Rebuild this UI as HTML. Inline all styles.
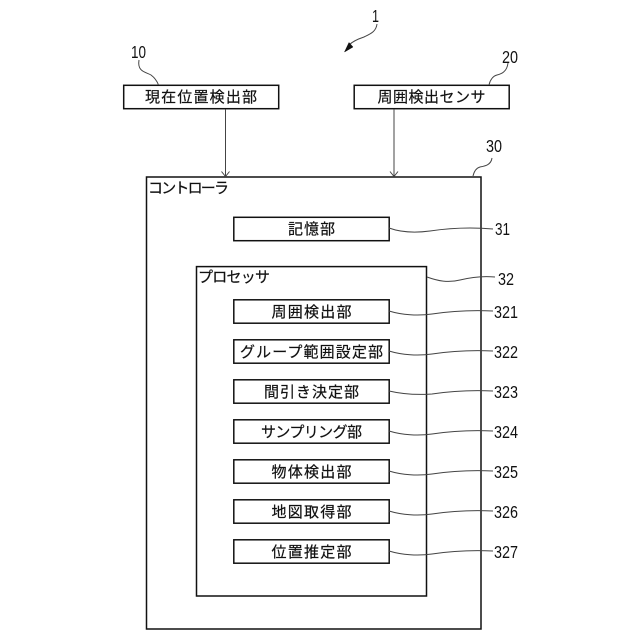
<!DOCTYPE html>
<html lang="ja"><head><meta charset="utf-8"><style>
html,body{margin:0;padding:0;background:#fff}
svg{display:block}
.j{font-family:"Liberation Sans","Noto Sans CJK JP",sans-serif;font-size:15px;fill:#111;stroke:#111;stroke-width:.2;text-anchor:middle}
.l{font-family:"Liberation Sans","Noto Sans CJK JP",sans-serif;font-size:15px;fill:#111;stroke:#111;stroke-width:.2}
.n{font-family:"Liberation Sans",sans-serif;font-size:17.5px;fill:#111}
.b{fill:none;stroke:#111;stroke-width:1.5}
.c{fill:none;stroke:#444;stroke-width:1}
</style></head><body>
<svg width="640" height="640" viewBox="0 0 640 640" xmlns="http://www.w3.org/2000/svg">
<rect class="b" x="123.7" y="85.3" width="155" height="23.4"/>
<rect class="b" x="354.2" y="85.3" width="155" height="23.4"/>
<rect class="b" x="146.5" y="177" width="334.5" height="452"/>
<rect class="b" x="233.8" y="217.3" width="155.4" height="23.4"/>
<rect class="b" x="196.5" y="266.6" width="230" height="329.4"/>
<rect class="b" x="233.8" y="299.8" width="155.4" height="23.4"/>
<rect class="b" x="233.8" y="339.8" width="155.4" height="23.4"/>
<rect class="b" x="233.8" y="379.8" width="155.4" height="23.4"/>
<rect class="b" x="233.8" y="419.8" width="155.4" height="23.4"/>
<rect class="b" x="233.8" y="459.8" width="155.4" height="23.4"/>
<rect class="b" x="233.8" y="499.8" width="155.4" height="23.4"/>
<rect class="b" x="233.8" y="539.8" width="155.4" height="23.4"/>

<path class="c" d="M225.5 109V176M221.5 171.5L225.5 176.5L229.5 171.5"/>
<path class="c" d="M394 109V176M390 171.5L394 176.5L398 171.5"/>

<path class="c" d="M139 60C137 72 146 72 151 75C155 78 157 81 158.5 85"/>
<path class="c" d="M508 63C507 72 501 74 497 75C493 76 490 80 489 85"/>
<path class="c" d="M492 158C491 165 485 166 480 167C476 168 474 172 473 176"/>
<path class="c" d="M377 24C376 32 370 34 364 37C358 39 353 41 349 45"/>
<path d="M344.5 52L349 42.5L353 47Z" fill="#111" stroke="#111" stroke-width=".5"/>

<path class="c" d="M389 228C400 232 415 233 430 231C450 228 470 227 493 229"/>
<path class="c" d="M427 277C438 281 448 283 460 280C472 277 485 276 495 277"/>
<path class="c" d="M389 311C402 315 418 316 432 314C452 311 472 310 493 311"/>
<path class="c" d="M389 351C402 355 418 356 432 354C452 351 472 350 493 351"/>
<path class="c" d="M389 391C402 394 418 395 432 394C452 391 472 390 493 391"/>
<path class="c" d="M389 431C402 435 418 436 432 434C452 431 472 430 493 431"/>
<path class="c" d="M389 471C402 475 418 476 432 474C452 471 472 470 493 471"/>
<path class="c" d="M389 511C402 515 418 516 432 514C452 511 472 510 493 511"/>
<path class="c" d="M389 551C402 555 418 556 432 554C452 551 472 550 493 551"/>

<text class="j" x="201" y="102" textLength="112" lengthAdjust="spacing">現在位置検出部</text>
<text class="j" x="431.5" y="102" textLength="108" lengthAdjust="spacing">周囲検出センサ</text>
<text class="l" x="148" y="193" textLength="81" lengthAdjust="spacing">コントローラ</text>
<text class="j" x="311.5" y="234" textLength="47" lengthAdjust="spacing">記憶部</text>
<text class="l" x="198" y="282" textLength="72" lengthAdjust="spacing">プロセッサ</text>
<text class="j" x="311.5" y="317" textLength="80" lengthAdjust="spacing">周囲検出部</text>
<text class="j" x="311.5" y="357" textLength="143" lengthAdjust="spacing">グループ範囲設定部</text>
<text class="j" x="311.5" y="397" textLength="95" lengthAdjust="spacing">間引き決定部</text>
<text class="j" x="311.5" y="437" textLength="101" lengthAdjust="spacing">サンプリング部</text>
<text class="j" x="311.5" y="477" textLength="80" lengthAdjust="spacing">物体検出部</text>
<text class="j" x="311.5" y="517" textLength="80" lengthAdjust="spacing">地図取得部</text>
<text class="j" x="311.5" y="557" textLength="80" lengthAdjust="spacing">位置推定部</text>

<text class="n" x="372" y="22" textLength="7" lengthAdjust="spacingAndGlyphs">1</text>
<text class="n" x="131" y="58" textLength="15" lengthAdjust="spacingAndGlyphs">10</text>
<text class="n" x="502" y="63" textLength="16" lengthAdjust="spacingAndGlyphs">20</text>
<text class="n" x="486" y="152" textLength="16" lengthAdjust="spacingAndGlyphs">30</text>
<text class="n" x="495" y="235" textLength="15" lengthAdjust="spacingAndGlyphs">31</text>
<text class="n" x="498" y="285" textLength="16" lengthAdjust="spacingAndGlyphs">32</text>
<text class="n" x="494" y="318" textLength="24" lengthAdjust="spacingAndGlyphs">321</text>
<text class="n" x="494" y="358" textLength="24" lengthAdjust="spacingAndGlyphs">322</text>
<text class="n" x="494" y="398" textLength="24" lengthAdjust="spacingAndGlyphs">323</text>
<text class="n" x="494" y="438" textLength="24" lengthAdjust="spacingAndGlyphs">324</text>
<text class="n" x="494" y="478" textLength="24" lengthAdjust="spacingAndGlyphs">325</text>
<text class="n" x="494" y="518" textLength="24" lengthAdjust="spacingAndGlyphs">326</text>
<text class="n" x="494" y="558" textLength="24" lengthAdjust="spacingAndGlyphs">327</text>
</svg>
</body></html>
